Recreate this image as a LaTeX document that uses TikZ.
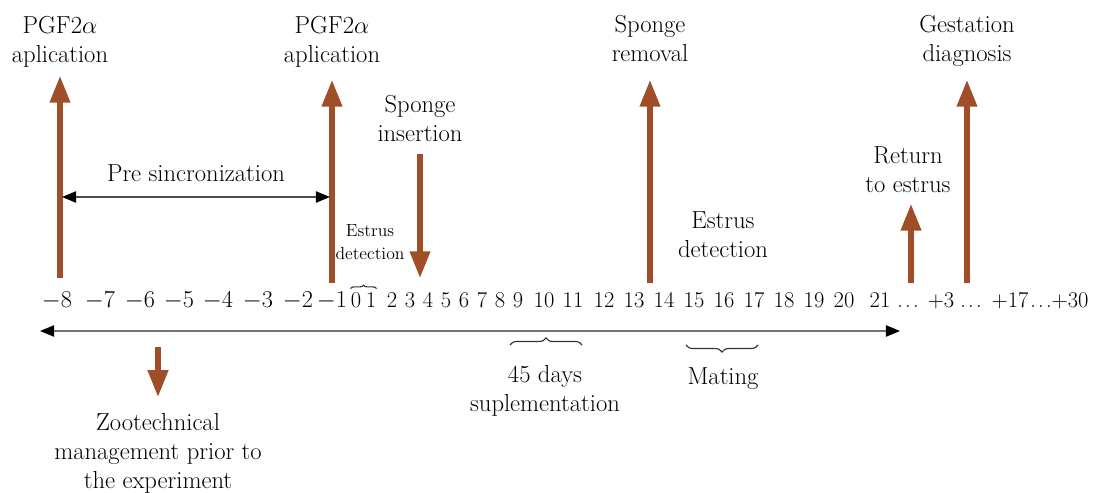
\documentclass[tikz,border=0pt]{standalone}
\usepackage{xcolor}
\usepackage{tikz}
\usetikzlibrary{arrows.meta,positioning,decorations.pathreplacing}

\definecolor{eventbrown}{RGB}{160,78,40}
\newcommand{\daydots}{.\kern1.6pt.\kern1.6pt.}
\tikzset{
  eventarrow/.style={draw=eventbrown, line width=3.6pt, -{Triangle[width=14pt,length=19pt]}},
  spanarrow/.style={line width=0.9pt, {Triangle[width=8pt,length=10pt,color=black]}-{Triangle[width=8pt,length=10pt,color=black]}},
  evtext/.style={align=center, inner sep=0pt, font=\fontsize{17.5}{20.6}\selectfont},
  smalltext/.style={align=center, inner sep=0pt, font=\fontsize{12.5}{16.4}\selectfont},
  daynum/.style={anchor=base, inner sep=0pt, font=\fontsize{16}{19}\selectfont},
  daybrace/.style={decorate, decoration={brace, amplitude=#1}, draw=black!80, line width=0.8pt},
  daybrace/.default=5pt
}

\begin{document}
\begin{tikzpicture}[x=0.025cm,y=0.025cm]
    \useasboundingbox (0,0) rectangle (1102,492);

    % Day numbers
    \foreach \x/\lab [count=\i] in {57/$-8$, 100/$-7$, 140/$-6$, 179/$-5$, 218/$-4$, 258/$-3$,
        298/$-2$, 332/$-1$, 356/0, 371/1, 392/2, 410/3, 428/4, 446/5, 464/6, 482/7, 500/8,
        518/9, 544/10, 573/11, 604/12, 634/13, 664/14, 694/15, 724/16, 754/17, 784/18,
        814/19, 844/20, 880/21, 908/\daydots, 941/+3, 971/\daydots, 1010/+17, 1041/\daydots, 1070/+30}
        \node[daynum] (n\i) at (\x,184) {\lab};

    % Brace over days 0 and 1
    \draw[daybrace=2.5pt] ([yshift=3pt]n9.north west) -- ([yshift=3pt]n10.north east);

    % Timeline
    \coordinate (tlstart) at (40,161);
    \coordinate (tlend) at (900,161);
    \draw[spanarrow, draw=black!55] (tlstart) -- (tlend);

    % PGF2alpha applications
    \node[evtext, anchor=south] (pgfa) at (60,424) {PGF2$\alpha$\\aplication};
    \coordinate (pgfabase) at (60,214);
    \draw[eventarrow, shorten >=5.7pt] (pgfabase) -- (pgfa);

    \node[evtext, anchor=south] (pgfb) at (332,424) {PGF2$\alpha$\\aplication};
    \coordinate (pgfbbase) at (332,209);
    \draw[eventarrow, shorten >=8.5pt] (pgfbbase) -- (pgfb);

    % Pre sincronization
    \coordinate (presyncL) at (62,295);
    \coordinate (presyncR) at (330,295);
    \draw[spanarrow, draw=black!70] (presyncL) -- (presyncR);
    \node[evtext, anchor=base] (presync) at (196,310) {Pre sincronization};

    % Estrus detection (small)
    \node[smalltext, anchor=south] (estrusa) at (370,232) {Estrus\\detection};

    % Sponge insertion
    \node[evtext, anchor=south] (spongein) at (420,350) {Sponge\\insertion};
    \coordinate (spongeintip) at (420,214);
    \draw[eventarrow, shorten <=8.5pt] (spongein) -- (spongeintip);

    % Sponge removal
    \node[evtext, anchor=south] (spongeout) at (650,430) {Sponge\\removal};
    \coordinate (spongeoutbase) at (650,209);
    \draw[eventarrow, shorten >=12.8pt] (spongeoutbase) -- (spongeout);

    % Estrus detection
    \node[evtext, anchor=south] (estrusb) at (723,234) {Estrus\\detection};

    % Return to estrus
    \node[evtext, anchor=south] (return) at (908,299) {Return\\to estrus};
    \coordinate (returnbase) at (911,209);
    \draw[eventarrow, shorten >=7.8pt] (returnbase) -- (returnbase |- return.south);

    % Gestation diagnosis
    \node[evtext, anchor=south] (gestation) at (967,425.5) {Gestation\\diagnosis};
    \coordinate (gestationbase) at (967,209);
    \draw[eventarrow, shorten >=9.6pt] (gestationbase) -- (gestation);

    % Supplementation and mating
    \draw[daybrace] (510,147) -- (582,147);
    \node[evtext, anchor=south] (suppl) at (545,75.5) {45 days\\suplementation};
    \draw[daybrace] (758,147) -- (686,147);
    \node[evtext, anchor=base] (mating) at (723,107) {Mating};

    % Zootechnical management
    \node[evtext, anchor=north] (zoo) at (158,79) {Zootechnical\\management prior to\\the experiment};
    \coordinate (zootop) at (158,145);
    \draw[eventarrow, shorten >=11.4pt] (zootop) -- (zoo);
\end{tikzpicture}
\end{document}
